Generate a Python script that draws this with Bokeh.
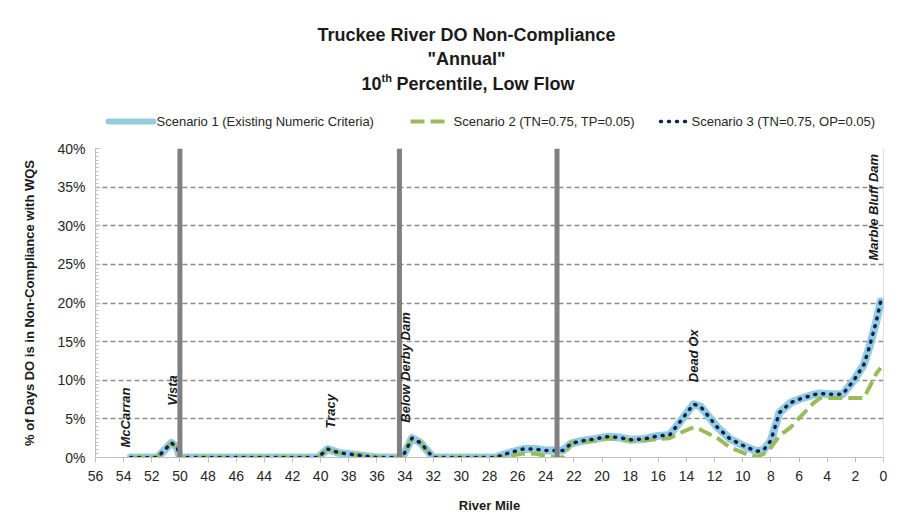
import math
from bokeh.plotting import figure
from bokeh.layouts import column
from bokeh.models import (Range1d, FixedTicker, PrintfTickFormatter, Span, Label)
from bokeh.core.properties import value
from bokeh.embed import file_html
from bokeh.resources import INLINE

# ---------------- data ----------------
river_mile = [53.5, 51.6, 50.6, 50.2, 50.0, 40.2, 39.5, 38.7, 37.3, 36.0,
              34.2, 33.5, 32.9, 32.0, 27.6, 26.6, 25.6, 24.8, 24.0, 23.2,
              22.8, 22.2, 21.6, 20.5, 19.6, 18.8, 18.0, 17.0, 16.0, 15.2,
              14.3, 13.5, 13.0, 11.8, 10.9, 9.7, 9.0, 8.5, 8.0, 7.4,
              6.6, 5.9, 5.0, 4.5, 4.0, 2.9, 2.1, 1.4, 1.0, 0.5, 0.2]

scenario1 = [0, 0, 1.9, 1.3, 0, 0, 1.1, 0.6, 0.3, 0,
             0, 2.5, 1.9, 0, 0, 0.6, 1.1, 1.1, 0.9, 0.9,
             0.9, 1.8, 2.1, 2.4, 2.7, 2.6, 2.3, 2.4, 2.8, 2.9,
             5.0, 6.9, 6.6, 3.9, 2.4, 1.3, 0.8, 1.0, 2.2, 5.8,
             7.1, 7.6, 8.1, 8.3, 8.2, 8.2, 10.0, 12.0, 14.3, 17.7, 20.2]

scenario2 = [0, 0, 1.9, 1.3, 0, 0, 1.1, 0.6, 0.3, 0,
             0, 2.5, 1.9, 0, 0, 0.2, 0.5, 0.5, 0.2, 0,
             0, 1.9, 2.0, 2.2, 2.5, 2.4, 2.2, 2.2, 2.4, 2.5,
             3.3, 3.9, 3.6, 2.5, 1.3, 0.4, 0.1, 0.5, 1.3, 2.8,
             3.9, 5.3, 7.0, 7.7, 7.7, 7.7, 7.7, 7.7, 9.1, 10.9, 11.6]

scenario3 = [0, 0, 1.9, 1.3, 0, 0, 1.1, 0.6, 0.3, 0,
             0, 2.5, 1.9, 0, 0, 0.6, 1.1, 1.1, 0.9, 0.9,
             0.9, 1.8, 2.1, 2.4, 2.7, 2.6, 2.3, 2.4, 2.8, 2.9,
             5.0, 6.9, 6.6, 3.9, 2.4, 1.3, 0.8, 1.0, 2.2, 5.8,
             7.1, 7.6, 8.1, 8.3, 8.2, 8.2, 10.0, 12.0, 14.3, 17.7, 20.2]

series_names = ["Scenario 1 (Existing Numeric Criteria)",
                "Scenario 2 (TN=0.75, TP=0.05)",
                "Scenario 3 (TN=0.75, OP=0.05)"]

reach_breaks = [50.0, 34.4, 23.2]

site_names = ["McCarran", "Vista", "Tracy", "Below Derby Dam", "Dead Ox", "Marble Bluff Dam"]
site_rm = [53.9, 50.55, 39.3, 33.95, 13.5, 0.7]
site_label_y = [1.3, 6.7, 3.75, 4.5, 9.75, 25.5]

x_ticks = list(range(0, 57, 2))
y_ticks = [0, 5, 10, 15, 20, 25, 30, 35, 40]

FONT = "Liberation Sans"
W = 914
TOP_H = 138
FRAME_L, FRAME_R = 95, 883

# series styles
S_COLORS = ["#93CDDD", "#9BBB59", "#0D1F5C"]
S_WIDTHS = [8, 4, 3.5]
S_DASHES = ["solid", "14 6", "1 7"]
S_CAPS = ["round", "butt", "round"]

# ---------------- title + legend strip ----------------
# (its frame is aligned with the main plot frame by the column layout)
top = figure(width=W, height=TOP_H, output_backend="svg", toolbar_location=None,
             x_range=Range1d(FRAME_L, FRAME_R), y_range=Range1d(TOP_H, 0),
             x_axis_type=None, y_axis_type=None, min_border=0)
top.outline_line_color = None
top.background_fill_color = "white"
top.border_fill_color = "white"
top.xgrid.visible = False
top.ygrid.visible = False

def ttext(x, y, text, size, align, style="bold", color="#1a1a1a"):
    top.text(x=[x], y=[y], text=[text], text_align=align, text_baseline="middle",
             text_font=value(FONT), text_font_style=style,
             text_font_size=size, text_color=color)

ttext(466, 34, "Truckee River DO Non-Compliance", "18px", "center")
ttext(466, 58, "\"Annual\"", "18px", "center")
ttext(381, 83, "10", "18px", "right")
ttext(381, 77, "th", "11px", "left")
ttext(396, 83, "Percentile, Low Flow", "18px", "left")

# legend (drawn manually)
leg_x0 = [108, 410, 660]
leg_x1 = [153, 450, 688]
leg_y = 121
for i in range(3):
    top.line([leg_x0[i], leg_x1[i]], [leg_y, leg_y], line_color=S_COLORS[i],
             line_width=min(S_WIDTHS[i], 6), line_dash=S_DASHES[i],
             line_cap=S_CAPS[i])
    ttext(leg_x1[i] + 3, leg_y, series_names[i], "13px", "left",
          style="normal", color="#262626")

# ---------------- main figure ----------------
p = figure(width=W, height=516 - TOP_H, output_backend="svg", toolbar_location=None,
           x_range=Range1d(56, 0), y_range=Range1d(0, 40),
           min_border_left=FRAME_L, min_border_right=W - FRAME_R,
           min_border_top=148 - TOP_H, min_border_bottom=59)
p.outline_line_color = None
p.background_fill_color = "white"
p.border_fill_color = "white"

# grid
p.xgrid.visible = False
p.ygrid.ticker = FixedTicker(ticks=y_ticks[1:])
p.ygrid.grid_line_color = "#8c8c8c"
p.ygrid.grid_line_dash = "5 3"
p.ygrid.grid_line_width = 1.3

# x axis
xa = p.xaxis[0]
xa.ticker = FixedTicker(ticks=x_ticks)
xa.axis_line_color = "#bfbfbf"
xa.major_tick_line_color = "#bfbfbf"
xa.major_tick_out = 5
xa.major_tick_in = 0
xa.minor_tick_line_color = None
xa.major_label_standoff = 8
xa.major_label_text_font = FONT
xa.major_label_text_font_size = "14px"
xa.major_label_text_color = "#262626"
xa.axis_label = "River Mile"
xa.axis_label_text_font = FONT
xa.axis_label_text_font_style = "bold"
xa.axis_label_text_font_size = "13px"
xa.axis_label_text_color = "#1a1a1a"
xa.axis_label_standoff = 14

# y axis
ya = p.yaxis[0]
ya.ticker = FixedTicker(ticks=y_ticks, minor_ticks=[i * 0.5 for i in range(81)])
ya.formatter = PrintfTickFormatter(format="%d%%")
ya.axis_line_color = "#bfbfbf"
ya.major_tick_line_color = "#bfbfbf"
ya.major_tick_in = 5
ya.major_tick_out = 0
ya.minor_tick_line_color = "#bfbfbf"
ya.minor_tick_in = 3
ya.minor_tick_out = 0
ya.major_label_standoff = 10
ya.major_label_text_font = FONT
ya.major_label_text_font_size = "14px"
ya.major_label_text_color = "#262626"
ya.axis_label = "% of Days DO is in Non-Compliance with WQS"
ya.axis_label_text_font = FONT
ya.axis_label_text_font_style = "bold"
ya.axis_label_text_font_size = "13px"
ya.axis_label_text_color = "#1a1a1a"
ya.axis_label_standoff = 17

# right frame edge
p.add_layout(Span(location=0, dimension="height", line_color="#bfbfbf", line_width=1))

# reach break lines
for rb in reach_breaks:
    p.add_layout(Span(location=rb, dimension="height", line_color="#808080",
                      line_width=5, level="glyph"))

# series
for i, ys in enumerate((scenario1, scenario2, scenario3)):
    p.line(river_mile, ys, line_color=S_COLORS[i], line_width=S_WIDTHS[i],
           line_dash=S_DASHES[i], line_cap=S_CAPS[i], line_join="round")

# site labels
for name, xr, yl in zip(site_names, site_rm, site_label_y):
    p.add_layout(Label(x=xr, y=yl, text=name, angle=math.pi / 2,
                       text_align="left", text_baseline="middle",
                       text_font=FONT, text_font_style="bold italic",
                       text_font_size="13px", text_color="#1a1a1a"))

layout = column(top, p, spacing=0)
open("out.html", "w").write(file_html(layout, INLINE))
